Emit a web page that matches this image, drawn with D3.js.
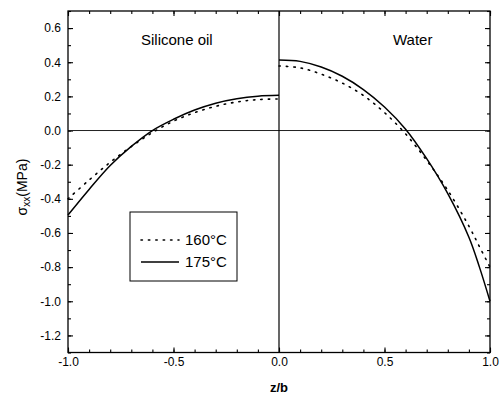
<!DOCTYPE html>
<html>
<head>
<meta charset="utf-8">
<script src="https://cdn.jsdelivr.net/npm/d3@7"></script>
<style>
  body { margin: 0; background: #fff; }
  text { font-family: "Liberation Sans", Arial, sans-serif; fill: #000; }
</style>
</head>
<body>
<svg id="chart" width="500" height="405"></svg>
<script>
// Normalised position z/b for each quench medium
const zOil = [-1.0, -0.9, -0.8, -0.7, -0.6, -0.5, -0.4, -0.3, -0.2, -0.1, 0.0];
const oil160 = [-0.40, -0.29, -0.186, -0.094, -0.012, 0.055, 0.105, 0.142, 0.167, 0.181, 0.185];
const oil175 = [-0.495, -0.345, -0.205, -0.093, 0.0, 0.066, 0.120, 0.160, 0.186, 0.201, 0.206];

const zWater = [0.0, 0.1, 0.2, 0.3, 0.4, 0.5, 0.6, 0.7, 0.8, 0.9, 0.95, 1.0];
const water160 = [0.378, 0.367, 0.330, 0.278, 0.205, 0.105, -0.020, -0.175, -0.350, -0.560, -0.680, -0.800];
const water175 = [0.413, 0.405, 0.372, 0.318, 0.240, 0.138, 0.008, -0.165, -0.370, -0.625, -0.800, -1.000];

// Axis ticks
const xTicks = [-1.0, -0.5, 0.0, 0.5, 1.0];
const xMinor = [-1.0, -0.9, -0.8, -0.7, -0.6, -0.5, -0.4, -0.3, -0.2, -0.1, 0.0, 0.1, 0.2, 0.3, 0.4, 0.5, 0.6, 0.7, 0.8, 0.9, 1.0];
const yTicks = [-1.2, -1.0, -0.8, -0.6, -0.4, -0.2, 0.0, 0.2, 0.4, 0.6];
const yMinor = [-1.3, -1.2, -1.1, -1.0, -0.9, -0.8, -0.7, -0.6, -0.5, -0.4, -0.3, -0.2, -0.1, 0.0, 0.1, 0.2, 0.3, 0.4, 0.5, 0.6, 0.7];

const panelLabels = ["Silicone oil", "Water"];
const seriesNames = ["160°C", "175°C"];

const svg = d3.select("#chart");
const L = 68, R = 490, T = 11, B = 352.5;

const x = d3.scaleLinear().domain([-1, 1]).range([L, R]);
const y = d3.scaleLinear().domain([-1.3, 0.7]).range([B, T]);
const fmt = d => d.toFixed(1);

function axis(gen, scale, values, size, transform, labelled, pad) {
  const g = svg.append("g")
    .attr("transform", transform)
    .call(gen(scale).tickValues(values).tickSize(size)
      .tickPadding(pad || 0)
      .tickFormat(labelled ? fmt : ""));
  g.select(".domain").remove();
  g.selectAll(".tick line").attr("stroke", "#000").attr("stroke-width", 1.1);
  g.selectAll("text").style("font-size", "12px").style("font-family", "'Liberation Sans', Arial, sans-serif").attr("fill", "#000");
  return g;
}

// Inward ticks on all four sides
axis(d3.axisBottom, x, xMinor, -3, `translate(0,${B})`, false);
axis(d3.axisBottom, x, xTicks, -5, `translate(0,${B})`, true, 5);
axis(d3.axisTop, x, xMinor, -3, `translate(0,${T})`, false);
axis(d3.axisTop, x, xTicks, -5, `translate(0,${T})`, false);
axis(d3.axisLeft, y, yMinor, -3, `translate(${L},0)`, false);
axis(d3.axisLeft, y, yTicks, -5, `translate(${L},0)`, true, 7);
axis(d3.axisRight, y, yMinor, -3, `translate(${R},0)`, false);
axis(d3.axisRight, y, yTicks, -5, `translate(${R},0)`, false);

// Zero reference lines
svg.append("line").attr("x1", L).attr("x2", R).attr("y1", y(0)).attr("y2", y(0))
  .attr("stroke", "#222").attr("stroke-width", 1);
svg.append("line").attr("x1", x(0)).attr("x2", x(0)).attr("y1", T).attr("y2", B)
  .attr("stroke", "#000").attr("stroke-width", 1.2);

// Plot frame
svg.append("rect").attr("x", L).attr("y", T).attr("width", R - L).attr("height", B - T)
  .attr("fill", "none").attr("stroke", "#000").attr("stroke-width", 1.3);

// Stress profiles
const line = d3.line().x(d => x(d[0])).y(d => y(d[1])).curve(d3.curveCatmullRom.alpha(0.5));
const solid = { stroke: "#000", width: 1.5, dash: null };
const dotted = { stroke: "#000", width: 1.6, dash: "1.4,6" };
const curves = [
  { z: zOil, v: oil160, s: dotted },
  { z: zOil, v: oil175, s: solid },
  { z: zWater, v: water160, s: dotted },
  { z: zWater, v: water175, s: solid }
];
curves.forEach(c => {
  svg.append("path")
    .datum(c.z.map((z, i) => [z, c.v[i]]))
    .attr("d", line)
    .attr("fill", "none")
    .attr("stroke", c.s.stroke)
    .attr("stroke-width", c.s.width)
    .attr("stroke-dasharray", c.s.dash)
    .attr("stroke-linecap", c.s.dash ? "round" : "butt");
});

// Panel captions
svg.append("text").attr("x", 141).attr("y", 45).style("font-size", "15px").text(panelLabels[0]);
svg.append("text").attr("x", 393).attr("y", 45).style("font-size", "15px").text(panelLabels[1]);

// Legend
const lg = svg.append("g");
lg.append("rect").attr("x", 130).attr("y", 212).attr("width", 107).attr("height", 69)
  .attr("fill", "#fff").attr("stroke", "#000").attr("stroke-width", 1);
[dotted, solid].forEach((s, i) => {
  const cy = 240 + i * 22;
  lg.append("line").attr("x1", 141).attr("x2", 179).attr("y1", cy).attr("y2", cy)
    .attr("stroke", s.stroke).attr("stroke-width", s.width)
    .attr("stroke-dasharray", s.dash)
    .attr("stroke-linecap", s.dash ? "round" : "butt");
  lg.append("text").attr("x", 185).attr("y", cy + 5).style("font-size", "15px").text(seriesNames[i]);
});

// Axis titles
svg.append("text").attr("x", x(0)).attr("y", 392).attr("text-anchor", "middle")
  .style("font-size", "13px").style("font-weight", "bold").text("z/b");

const yt = svg.append("text").attr("transform", "translate(27,187) rotate(-90)")
  .attr("text-anchor", "middle").style("font-size", "14px");
yt.append("tspan").text("σ");
yt.append("tspan").attr("dy", 3).style("font-size", "10px").text("xx");
yt.append("tspan").attr("dy", -3).text("(MPa)");
</script>
</body>
</html>
